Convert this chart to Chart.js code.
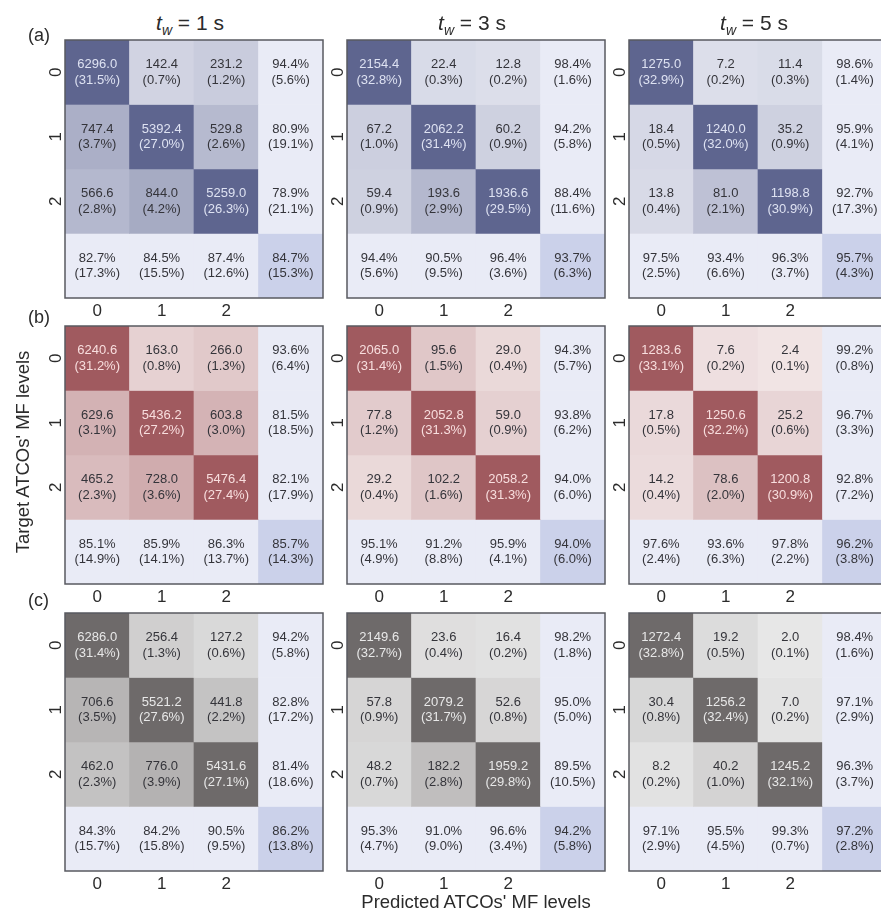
<!DOCTYPE html>
<html>
<head>
<meta charset="utf-8">
<script src="https://cdn.jsdelivr.net/npm/chart.js@4.4.1/dist/chart.umd.min.js"></script>
<style>
  html, body { margin: 0; padding: 0; background: #fff; }
  #fig { position: relative; width: 881px; height: 914px; overflow: hidden;
         font-family: "Liberation Sans", Arial, sans-serif; color: #2b2b2b; }
  #fig canvas { position: absolute; }
  .lbl { position: absolute; white-space: nowrap; line-height: 1; transform: translate(-50%, -50%); }
  .title { font-size: 21px; }
  .title sub { font-size: 14px; vertical-align: -5px; line-height: 0; }
  .tag { font-size: 18px; transform: translate(0, -50%); }
  .axis { font-size: 18.5px; }
  .axis.vert { transform: translate(-50%, -50%) rotate(-90deg); }
</style>
</head>
<body>
<div id="fig"></div>
<script>
// ---- categories ----
const levels = ['0', '1', '2'];
const windowSecs = [1, 3, 5];
const rowTags = ['(a)', '(b)', '(c)'];
const xTitle = "Predicted ATCOs' MF levels";
const yTitle = "Target ATCOs' MF levels";

// ---- (a) ----
const a1Counts = [[6296.0, 142.4, 231.2], [747.4, 5392.4, 529.8], [566.6, 844.0, 5259.0]];
const a1Shares = [[31.5, 0.7, 1.2], [3.7, 27.0, 2.6], [2.8, 4.2, 26.3]];
const a1Rows = [[94.4, 5.6], [80.9, 19.1], [78.9, 21.1]];
const a1Cols = [[82.7, 17.3], [84.5, 15.5], [87.4, 12.6]];
const a1All = [84.7, 15.3];

const a2Counts = [[2154.4, 22.4, 12.8], [67.2, 2062.2, 60.2], [59.4, 193.6, 1936.6]];
const a2Shares = [[32.8, 0.3, 0.2], [1.0, 31.4, 0.9], [0.9, 2.9, 29.5]];
const a2Rows = [[98.4, 1.6], [94.2, 5.8], [88.4, 11.6]];
const a2Cols = [[94.4, 5.6], [90.5, 9.5], [96.4, 3.6]];
const a2All = [93.7, 6.3];

const a3Counts = [[1275.0, 7.2, 11.4], [18.4, 1240.0, 35.2], [13.8, 81.0, 1198.8]];
const a3Shares = [[32.9, 0.2, 0.3], [0.5, 32.0, 0.9], [0.4, 2.1, 30.9]];
const a3Rows = [[98.6, 1.4], [95.9, 4.1], [92.7, 17.3]];
const a3Cols = [[97.5, 2.5], [93.4, 6.6], [96.3, 3.7]];
const a3All = [95.7, 4.3];

// ---- (b) ----
const b1Counts = [[6240.6, 163.0, 266.0], [629.6, 5436.2, 603.8], [465.2, 728.0, 5476.4]];
const b1Shares = [[31.2, 0.8, 1.3], [3.1, 27.2, 3.0], [2.3, 3.6, 27.4]];
const b1Rows = [[93.6, 6.4], [81.5, 18.5], [82.1, 17.9]];
const b1Cols = [[85.1, 14.9], [85.9, 14.1], [86.3, 13.7]];
const b1All = [85.7, 14.3];

const b2Counts = [[2065.0, 95.6, 29.0], [77.8, 2052.8, 59.0], [29.2, 102.2, 2058.2]];
const b2Shares = [[31.4, 1.5, 0.4], [1.2, 31.3, 0.9], [0.4, 1.6, 31.3]];
const b2Rows = [[94.3, 5.7], [93.8, 6.2], [94.0, 6.0]];
const b2Cols = [[95.1, 4.9], [91.2, 8.8], [95.9, 4.1]];
const b2All = [94.0, 6.0];

const b3Counts = [[1283.6, 7.6, 2.4], [17.8, 1250.6, 25.2], [14.2, 78.6, 1200.8]];
const b3Shares = [[33.1, 0.2, 0.1], [0.5, 32.2, 0.6], [0.4, 2.0, 30.9]];
const b3Rows = [[99.2, 0.8], [96.7, 3.3], [92.8, 7.2]];
const b3Cols = [[97.6, 2.4], [93.6, 6.3], [97.8, 2.2]];
const b3All = [96.2, 3.8];

// ---- (c) ----
const c1Counts = [[6286.0, 256.4, 127.2], [706.6, 5521.2, 441.8], [462.0, 776.0, 5431.6]];
const c1Shares = [[31.4, 1.3, 0.6], [3.5, 27.6, 2.2], [2.3, 3.9, 27.1]];
const c1Rows = [[94.2, 5.8], [82.8, 17.2], [81.4, 18.6]];
const c1Cols = [[84.3, 15.7], [84.2, 15.8], [90.5, 9.5]];
const c1All = [86.2, 13.8];

const c2Counts = [[2149.6, 23.6, 16.4], [57.8, 2079.2, 52.6], [48.2, 182.2, 1959.2]];
const c2Shares = [[32.7, 0.4, 0.2], [0.9, 31.7, 0.8], [0.7, 2.8, 29.8]];
const c2Rows = [[98.2, 1.8], [95.0, 5.0], [89.5, 10.5]];
const c2Cols = [[95.3, 4.7], [91.0, 9.0], [96.6, 3.4]];
const c2All = [94.2, 5.8];

const c3Counts = [[1272.4, 19.2, 2.0], [30.4, 1256.2, 7.0], [8.2, 40.2, 1245.2]];
const c3Shares = [[32.8, 0.5, 0.1], [0.8, 32.4, 0.2], [0.2, 1.0, 32.1]];
const c3Rows = [[98.4, 1.6], [97.1, 2.9], [96.3, 3.7]];
const c3Cols = [[97.1, 2.9], [95.5, 4.5], [99.3, 0.7]];
const c3All = [97.2, 2.8];

// ---- styling ----
const FONT = '"Liberation Sans", Arial, sans-serif';
const palettes = [
  { light: [228, 230, 240], dark: [94, 101, 143], lightText: 'rgb(222,226,242)' },
  { light: [243, 232, 232], dark: [160, 90, 95], lightText: 'rgb(248,222,222)' },
  { light: [234, 234, 234], dark: [110, 106, 106], lightText: 'rgb(232,232,232)' }
];
const SUMMARY_BG = 'rgb(233,235,246)';
const TOTAL_BG = 'rgb(203,209,234)';
const TEXT_DARK = 'rgb(52,52,58)';

const PANEL_X = [65, 347, 629];
const PANEL_Y = [40, 326, 613];
const SIZE = 258;
const PAD = { left: 40, top: 2, right: 2, bottom: 30 };

const grid = [
  [
    { counts: a1Counts, shares: a1Shares, rows: a1Rows, cols: a1Cols, all: a1All },
    { counts: a2Counts, shares: a2Shares, rows: a2Rows, cols: a2Cols, all: a2All },
    { counts: a3Counts, shares: a3Shares, rows: a3Rows, cols: a3Cols, all: a3All }
  ],
  [
    { counts: b1Counts, shares: b1Shares, rows: b1Rows, cols: b1Cols, all: b1All },
    { counts: b2Counts, shares: b2Shares, rows: b2Rows, cols: b2Cols, all: b2All },
    { counts: b3Counts, shares: b3Shares, rows: b3Rows, cols: b3Cols, all: b3All }
  ],
  [
    { counts: c1Counts, shares: c1Shares, rows: c1Rows, cols: c1Cols, all: c1All },
    { counts: c2Counts, shares: c2Shares, rows: c2Rows, cols: c2Cols, all: c2All },
    { counts: c3Counts, shares: c3Shares, rows: c3Rows, cols: c3Cols, all: c3All }
  ]
];

const pct = v => v.toFixed(1) + '%';

// Intensity grows with the count relative to the panel's largest count, saturating on the diagonal.
function shade(v, vmax, pal) {
  const t = Math.min(1, 1.7 * Math.pow(v / vmax, 0.65));
  const c = pal.light.map((l, k) => Math.round(l + (pal.dark[k] - l) * t));
  return { color: `rgb(${c[0]},${c[1]},${c[2]})`, t };
}

// Builds one dataset per matrix row (three class rows + the precision row).
function buildDatasets(p, pal) {
  const vmax = Math.max(...p.counts.flat());
  const sets = [];
  for (let r = 0; r <= levels.length; r++) {
    const bg = [], fg = [], lines = [], data = [];
    for (let c = 0; c <= levels.length; c++) {
      data.push([r, r + 1]);
      if (r < levels.length && c < levels.length) {
        const s = shade(p.counts[r][c], vmax, pal);
        bg.push(s.color);
        fg.push(s.t > 0.75 ? pal.lightText : TEXT_DARK);
        lines.push([p.counts[r][c].toFixed(1), '(' + pct(p.shares[r][c]) + ')']);
      } else if (r < levels.length) {
        bg.push(SUMMARY_BG); fg.push(TEXT_DARK);
        lines.push([pct(p.rows[r][0]), '(' + pct(p.rows[r][1]) + ')']);
      } else if (c < levels.length) {
        bg.push(SUMMARY_BG); fg.push(TEXT_DARK);
        lines.push([pct(p.cols[c][0]), '(' + pct(p.cols[c][1]) + ')']);
      } else {
        bg.push(TOTAL_BG); fg.push(TEXT_DARK);
        lines.push([pct(p.all[0]), '(' + pct(p.all[1]) + ')']);
      }
    }
    sets.push({ data, backgroundColor: bg, borderWidth: 0, cellText: lines, textColors: fg });
  }
  return sets;
}

// Cell annotations, frame and rotated row ticks.
const matrixDecor = {
  id: 'matrixDecor',
  afterDatasetsDraw(chart) {
    const { ctx, chartArea } = chart;
    const xs = chart.scales.x, ys = chart.scales.y;
    ctx.save();
    ctx.textAlign = 'center';
    ctx.textBaseline = 'middle';
    ctx.font = '13px ' + FONT;
    chart.data.datasets.forEach((ds, r) => {
      chart.getDatasetMeta(r).data.forEach((bar, c) => {
        const cy = (bar.y + bar.base) / 2;
        const [l1, l2] = ds.cellText[c];
        ctx.fillStyle = ds.textColors[c];
        ctx.fillText(l1, bar.x, cy - 7.5);
        ctx.fillText(l2, bar.x, cy + 8);
      });
    });
    ctx.strokeStyle = 'rgb(88,90,96)';
    ctx.lineWidth = 1.5;
    ctx.strokeRect(chartArea.left, chartArea.top, chartArea.right - chartArea.left, chartArea.bottom - chartArea.top);

    ctx.fillStyle = '#2b2b2b';
    ctx.font = '17px ' + FONT;
    levels.forEach((lab, i) => {
      ctx.fillText(lab, xs.getPixelForValue(i), chartArea.bottom + 13);
      ctx.save();
      ctx.translate(chartArea.left - 10, ys.getPixelForValue(i + 0.5));
      ctx.rotate(-Math.PI / 2);
      ctx.fillText(lab, 0, 1);
      ctx.restore();
    });
    ctx.restore();
  }
};

const fig = document.getElementById('fig');

function addLabel(html, cls, x, y) {
  const d = document.createElement('div');
  d.className = 'lbl ' + cls;
  d.innerHTML = html;
  d.style.left = x + 'px';
  d.style.top = y + 'px';
  fig.appendChild(d);
}

grid.forEach((row, gr) => {
  row.forEach((p, gc) => {
    const cv = document.createElement('canvas');
    const w = PAD.left + SIZE + PAD.right, h = PAD.top + SIZE + PAD.bottom;
    cv.width = w; cv.height = h;
    cv.style.width = w + 'px'; cv.style.height = h + 'px';
    cv.style.left = (PANEL_X[gc] - PAD.left) + 'px';
    cv.style.top = (PANEL_Y[gr] - PAD.top) + 'px';
    fig.appendChild(cv);
    new Chart(cv, {
      type: 'bar',
      data: { labels: [...levels, ''], datasets: buildDatasets(p, palettes[gr]) },
      options: {
        responsive: false,
        animation: false,
        devicePixelRatio: 1,
        layout: { padding: PAD },
        datasets: { bar: { barPercentage: 1, categoryPercentage: 1, grouped: false, borderSkipped: false } },
        scales: {
          x: { display: false },
          y: { display: false, min: 0, max: levels.length + 1, reverse: true }
        },
        plugins: { legend: { display: false }, tooltip: { enabled: false }, title: { display: false } },
        events: []
      },
      plugins: [matrixDecor]
    });
  });
});

// Column titles, row tags and shared axis titles.
windowSecs.forEach((s, i) => {
  addLabel(`<i>t</i><sub><i>w</i></sub> = ${s} s`, 'title', PANEL_X[i] + SIZE / 2 - 4, 22);
});
const tagY = [35, 317, 600];
rowTags.forEach((t, i) => addLabel(t, 'tag', 28, tagY[i]));
addLabel(xTitle, 'axis', PANEL_X[1] + SIZE / 2, 902);
addLabel(yTitle, 'axis vert', 23, 452);
</script>
</body>
</html>
